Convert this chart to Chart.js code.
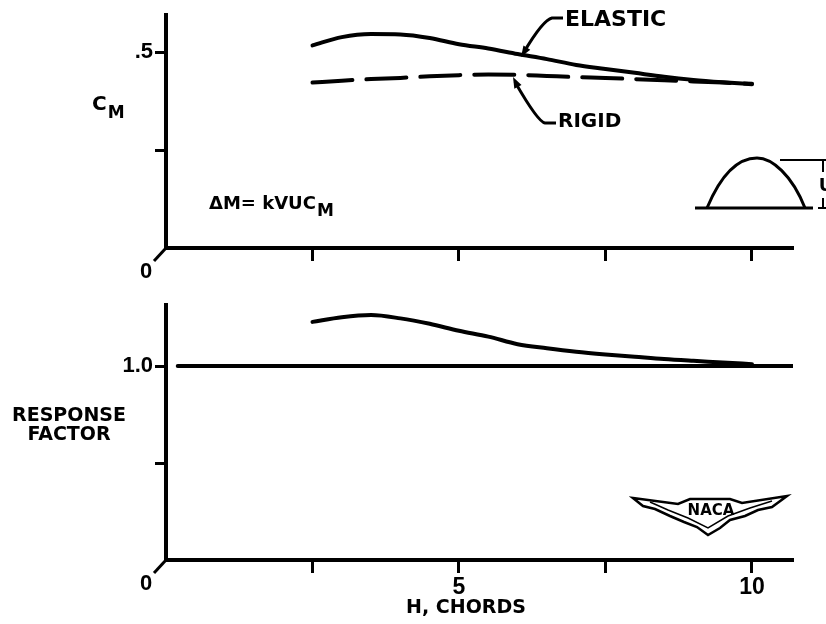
<!DOCTYPE html>
<html>
<head>
<meta charset="utf-8">
<script src="https://cdn.jsdelivr.net/npm/chart.js@4"></script>
<style>
  body { margin: 0; background: #fff; }
  #wrap { position: relative; width: 826px; height: 624px; }
  canvas { position: absolute; left: 0; }
</style>
</head>
<body>
<div id="wrap">
  <canvas id="cm" width="826" height="290" style="top:0"></canvas>
  <canvas id="rf" width="826" height="334" style="top:290px"></canvas>
</div>
<script>
// H, chords
const hChords = [2.5, 3, 3.5, 4, 4.5, 5, 5.5, 6, 6.5, 7, 7.5, 8, 8.5, 9, 9.5, 10];
// C_M, elastic wing
const cmElastic = [0.517, 0.538, 0.546, 0.545, 0.536, 0.520, 0.509, 0.495, 0.482, 0.467, 0.457, 0.447, 0.437, 0.429, 0.423, 0.418];
// C_M, rigid wing
const cmRigid = [0.422, 0.427, 0.431, 0.434, 0.438, 0.441, 0.443, 0.442, 0.439, 0.436, 0.434, 0.431, 0.428, 0.425, 0.422, 0.419];
// response factor = elastic / rigid
const responseFactor = [1.228, 1.252, 1.263, 1.246, 1.218, 1.182, 1.152, 1.113, 1.092, 1.074, 1.06, 1.048, 1.036, 1.027, 1.019, 1.01];
// reference line
const unityH = [0.2, 10.7];
const unityVal = [1.0, 1.0];

const xTicks = [0, 2.5, 5, 7.5, 10];
const cmTicks = [0, 0.25, 0.5];
const rfTicks = [0, 0.5, 1.0];

const TICKFONT = 'Liberation Sans';
const FONT = 'DejaVu Sans';

function pts(xs, ys) {
  return xs.map((x, i) => ({ x: x, y: ys[i] }));
}

function tickCol(ctx) {
  return ctx.tick && ctx.tick.value === 0 ? 'rgba(0,0,0,0)' : '#000';
}

function xScale(showLabels) {
  return {
    type: 'linear', min: 0, max: 10.7,
    afterBuildTicks: s => { s.ticks = xTicks.map(v => ({ value: v })); },
    afterFit: s => { s.height = showLabels ? 50 : 30; },
    border: { color: '#000', width: 4 },
    grid: { drawOnChartArea: false, tickLength: 13, tickWidth: 3, tickColor: tickCol },
    ticks: {
      display: showLabels, color: '#000', padding: 1,
      font: { family: TICKFONT, size: 23, weight: 'bold' },
      callback: v => (v === 5 || v === 10) ? String(v) : ''
    }
  };
}

function yScale(max, tickVals, label) {
  return {
    type: 'linear', min: 0, max: max,
    afterBuildTicks: s => { s.ticks = tickVals.map(v => ({ value: v })); },
    afterFit: s => { s.width = 60; },
    border: { color: '#000', width: 4 },
    grid: { drawOnChartArea: false, tickLength: 11, tickWidth: 3, tickColor: tickCol },
    ticks: {
      color: '#000', padding: 2,
      font: { family: TICKFONT, size: 22, weight: 'bold' },
      callback: v => v === label[0] ? label[1] : ''
    }
  };
}

function zeroMark(ctx, ax, ay) {
  ctx.save();
  ctx.strokeStyle = '#000';
  ctx.lineWidth = 3;
  ctx.beginPath();
  ctx.moveTo(ax, ay);
  ctx.lineTo(ax - 12, ay + 13);
  ctx.stroke();
  ctx.fillStyle = '#000';
  ctx.font = 'bold 22px ' + TICKFONT;
  ctx.textAlign = 'center';
  ctx.textBaseline = 'middle';
  ctx.fillText('0', ax - 20, ay + 24);
  ctx.restore();
}

function arrowHead(ctx, x, y, ang) {
  ctx.save();
  ctx.translate(x, y);
  ctx.rotate(ang);
  ctx.beginPath();
  ctx.moveTo(0, 0);
  ctx.lineTo(-11, -4);
  ctx.lineTo(-11, 4);
  ctx.closePath();
  ctx.fill();
  ctx.restore();
}

// main text followed by a subscript
function subText(ctx, main, sub, x, y, size, subSize, drop) {
  ctx.font = 'bold ' + size + 'px ' + FONT;
  ctx.fillText(main, x, y);
  const w = ctx.measureText(main).width;
  ctx.font = 'bold ' + subSize + 'px ' + FONT;
  ctx.fillText(sub, x + w + 1, y + drop);
}

const cmDecor = {
  id: 'cmDecor',
  afterDraw(chart) {
    const ctx = chart.ctx;
    const xs = chart.scales.x, ys = chart.scales.y;
    zeroMark(ctx, xs.getPixelForValue(0), ys.getPixelForValue(0));
    ctx.save();
    ctx.fillStyle = '#000';
    ctx.strokeStyle = '#000';
    ctx.textBaseline = 'alphabetic';
    // C_M axis label
    subText(ctx, 'C', 'M', 92, 110, 20, 17, 8);
    // formula
    subText(ctx, '\u0394M= kVUC', 'M', 209, 209, 18, 17, 7);
    // ELASTIC / RIGID labels with leaders
    ctx.textBaseline = 'middle';
    ctx.font = 'bold 22px ' + FONT;
    ctx.fillText('ELASTIC', 565, 20);
    ctx.font = 'bold 20px ' + FONT;
    ctx.fillText('RIGID', 558, 122);
    ctx.lineWidth = 3;
    ctx.beginPath();
    ctx.moveTo(563, 18);
    ctx.lineTo(552, 18);
    ctx.quadraticCurveTo(543, 20, 524, 52);
    ctx.stroke();
    arrowHead(ctx, 521, 57, Math.atan2(35, -22));
    ctx.beginPath();
    ctx.moveTo(556, 123);
    ctx.lineTo(545, 123);
    ctx.quadraticCurveTo(538, 122, 515, 82);
    ctx.stroke();
    arrowHead(ctx, 513, 77, Math.atan2(-40, -20));
    // bump sketch with U dimension
    ctx.beginPath();
    ctx.moveTo(695, 208);
    ctx.lineTo(813, 208);
    ctx.stroke();
    ctx.beginPath();
    ctx.moveTo(707, 208);
    ctx.bezierCurveTo(725, 165, 745, 158, 757, 158);
    ctx.bezierCurveTo(772, 158, 792, 175, 805, 208);
    ctx.stroke();
    ctx.lineWidth = 2;
    ctx.beginPath();
    ctx.moveTo(780, 160); ctx.lineTo(826, 160);
    ctx.moveTo(818, 208); ctx.lineTo(826, 208);
    ctx.moveTo(823, 160); ctx.lineTo(823, 172);
    ctx.moveTo(823, 198); ctx.lineTo(823, 208);
    ctx.stroke();
    ctx.font = 'bold 18px ' + FONT;
    ctx.textAlign = 'center';
    ctx.fillText('U', 826, 186);
    ctx.restore();
  }
};

const rfDecor = {
  id: 'rfDecor',
  afterDraw(chart) {
    const ctx = chart.ctx;
    const xs = chart.scales.x, ys = chart.scales.y;
    zeroMark(ctx, xs.getPixelForValue(0), ys.getPixelForValue(0));
    ctx.save();
    ctx.fillStyle = '#000';
    ctx.strokeStyle = '#000';
    ctx.textAlign = 'center';
    ctx.textBaseline = 'middle';
    ctx.font = 'bold 19px ' + FONT;
    ctx.fillText('RESPONSE', 69, 126);
    ctx.fillText('FACTOR', 69, 145);
    ctx.fillText('H, CHORDS', 466, 318);
    // NACA emblem
    ctx.lineWidth = 2.5;
    ctx.beginPath();
    ctx.moveTo(633, 208);
    ctx.lineTo(678, 214);
    ctx.lineTo(690, 209);
    ctx.lineTo(730, 209);
    ctx.lineTo(742, 213);
    ctx.lineTo(787, 206);
    ctx.lineTo(772, 217);
    ctx.lineTo(758, 220);
    ctx.lineTo(745, 226);
    ctx.lineTo(730, 230);
    ctx.lineTo(720, 238);
    ctx.lineTo(708, 245);
    ctx.lineTo(697, 237);
    ctx.lineTo(684, 232);
    ctx.lineTo(670, 226);
    ctx.lineTo(655, 219);
    ctx.lineTo(643, 216);
    ctx.closePath();
    ctx.stroke();
    ctx.lineWidth = 1.5;
    ctx.beginPath();
    ctx.moveTo(650, 212); ctx.lineTo(668, 220); ctx.lineTo(688, 228); ctx.lineTo(708, 238);
    ctx.lineTo(728, 226); ctx.lineTo(750, 218); ctx.lineTo(772, 211);
    ctx.stroke();
    ctx.font = 'bold 15px ' + FONT;
    ctx.fillText('NACA', 711, 221);
    ctx.restore();
  }
};

const common = {
  responsive: false,
  animation: false,
  events: [],
  plugins: { legend: { display: false }, tooltip: { enabled: false } },
  elements: { point: { radius: 0 }, line: { borderColor: '#000', borderWidth: 4, borderCapStyle: 'round' } }
};

new Chart(document.getElementById('cm').getContext('2d'), {
  type: 'line',
  data: {
    datasets: [
      { label: 'Elastic', data: pts(hChords, cmElastic), cubicInterpolationMode: 'monotone' },
      { label: 'Rigid', data: pts(hChords, cmRigid), cubicInterpolationMode: 'monotone', borderDash: [40, 14] }
    ]
  },
  options: Object.assign({}, common, {
    layout: { padding: { left: 106, right: 33, top: 14, bottom: 12 } },
    scales: { x: xScale(false), y: yScale(0.594, cmTicks, [0.5, '.5']) }
  }),
  plugins: [cmDecor]
});

new Chart(document.getElementById('rf').getContext('2d'), {
  type: 'line',
  data: {
    datasets: [
      { label: 'Response factor', data: pts(hChords, responseFactor), cubicInterpolationMode: 'monotone' },
      { label: 'Unity', data: pts(unityH, unityVal) }
    ]
  },
  options: Object.assign({}, common, {
    layout: { padding: { left: 106, right: 33, top: 15, bottom: 14 } },
    scales: { x: xScale(true), y: yScale(1.314, rfTicks, [1, '1.0']) }
  }),
  plugins: [rfDecor]
});
</script>
</body>
</html>
